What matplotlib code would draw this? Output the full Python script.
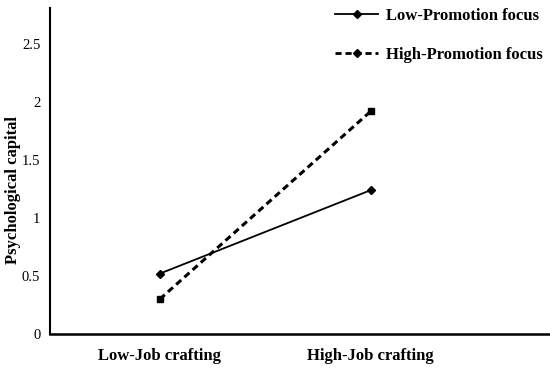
import matplotlib
matplotlib.use("Agg")
import matplotlib.pyplot as plt
from matplotlib.lines import Line2D

categories = ["Low-Job crafting", "High-Job crafting"]
low_promotion = [0.52, 1.24]
high_promotion = [0.30, 1.92]
series_names = ["Low-Promotion focus", "High-Promotion focus"]
yticks = [0, 0.5, 1, 1.5, 2, 2.5]
ytick_labels = ["0", "0.5", "1", "1.5", "2", "2.5"]

plt.rcParams['font.family'] = ['Liberation Serif', 'DejaVu Serif']

W, H = 550, 369
fig = plt.figure(figsize=(5.5, 3.69), dpi=100)
ax = fig.add_axes([0.091, 0.095, 0.909, 0.883])

x = list(range(len(categories)))
ax.plot(x, low_promotion, color='black', lw=1.3, marker='D', markersize=4.5)
ax.plot(x, high_promotion, color='black', lw=2.2, ls=(0, (2.2, 1.4)), marker='s', markersize=4.5)

ax.set_xlim(-0.52, 1.85)
ax.set_ylim(0, 2.81)
ax.set_yticks(yticks)
ax.set_yticklabels(ytick_labels, fontsize=10.5)
ax.set_xticks(x)
ax.set_xticklabels(categories, fontsize=12, fontweight='bold')
ax.tick_params(axis='both', length=0)
ax.tick_params(axis='y', pad=7)
ax.tick_params(axis='x', pad=10)
for s in ['top', 'right']:
    ax.spines[s].set_visible(False)
ax.spines['left'].set_linewidth(1.5)
ax.spines['bottom'].set_linewidth(1.8)
fig.text(13 / W, 1 - 190 / H, "Psychological capital", rotation=90, fontsize=12,
         fontweight='bold', ha='center', va='center')

handles = [
    Line2D([], [], color='black', lw=1.3, marker='D', markersize=4),
    Line2D([], [], color='black', lw=2.0, ls=(0, (2.2, 1.4)), marker='D', markersize=4),
]
leg = fig.legend(handles, series_names, loc='upper right', bbox_to_anchor=(1.015, 1.02),
                 frameon=False, prop={'weight': 'bold', 'size': 12},
                 handlelength=2.6, handletextpad=0.5, labelspacing=1.4)

fig.savefig("out.png", dpi=100)
